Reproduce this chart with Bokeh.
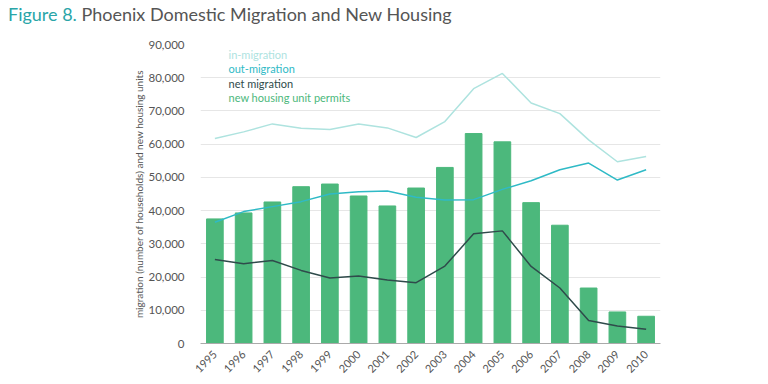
from bokeh.plotting import figure
from bokeh.models import (ColumnDataSource, Label, FixedTicker, Div,
                          NumeralTickFormatter, Range1d)
from bokeh.layouts import column
from bokeh.embed import file_html
from bokeh.resources import INLINE
import math

years = ["1995", "1996", "1997", "1998", "1999", "2000", "2001", "2002",
         "2003", "2004", "2005", "2006", "2007", "2008", "2009", "2010"]
permits = [37500, 39300, 42600, 47200, 48000, 44400, 41400, 46800,
           53000, 63200, 60700, 42400, 35600, 16700, 9500, 8200]
in_migration = [61700, 63700, 66100, 64800, 64400, 66100, 64900, 62000,
                66800, 76700, 81300, 72400, 69200, 61300, 54700, 56300]
out_migration = [36500, 39700, 41200, 42700, 45000, 45700, 45900, 44000,
                 43200, 43300, 46400, 49000, 52300, 54300, 49200, 52300]
net_migration = [25300, 24000, 25000, 22000, 19700, 20300, 19100, 18300,
                 23300, 33000, 33900, 23200, 16700, 6900, 5300, 4300]
y_ticks = [0, 10000, 20000, 30000, 40000, 50000, 60000, 70000, 80000, 90000]

FONT = "Lato"
C_BAR = "#4cb87c"
C_IN = "#aee3df"
C_OUT = "#2fbac6"
C_NET = "#2f4b4b"
C_TXT = "#555555"

TH = 28
W, H = 768, 384 - TH
BL, BR, BT, BB = 200, 108, 44 - TH, 41
FH = H - BT - BB

src = ColumnDataSource(dict(year=years, permits=permits, inm=in_migration,
                            outm=out_migration, net=net_migration))

p = figure(x_range=years, y_range=Range1d(0, 90000), width=W, height=H,
           output_backend="svg", toolbar_location=None,
           min_border_left=BL, min_border_right=BR, min_border_top=BT,
           min_border_bottom=BB, margin=(0, 0, 0, 0))
p.outline_line_color = None

p.vbar(x="year", top="permits", width=0.58, source=src, color=C_BAR)
p.line(x="year", y="inm", source=src, color=C_IN, line_width=1.5)
p.line(x="year", y="outm", source=src, color=C_OUT, line_width=1.5)
p.line(x="year", y="net", source=src, color=C_NET, line_width=1.5)

p.xgrid.grid_line_color = None
p.ygrid.grid_line_color = "#e6e6e6"
p.ygrid.ticker = FixedTicker(ticks=y_ticks)

p.yaxis.ticker = FixedTicker(ticks=y_ticks)
p.yaxis.formatter = NumeralTickFormatter(format="0,0")
p.yaxis.axis_line_color = None
p.yaxis.major_tick_line_color = None
p.yaxis.minor_tick_line_color = None
p.yaxis.major_label_standoff = 10
p.yaxis.major_label_text_font = FONT
p.yaxis.major_label_text_font_size = "11.5px"
p.yaxis.major_label_text_color = C_TXT
p.yaxis.axis_label = "migration (number of households) and new housing units"
p.yaxis.axis_label_standoff = 1
p.yaxis.axis_label_text_font = FONT
p.yaxis.axis_label_text_font_size = "10px"
p.yaxis.axis_label_text_font_style = "normal"
p.yaxis.axis_label_text_color = C_TXT

p.xaxis.axis_line_color = "#aaaaaa"
p.xaxis.major_tick_line_color = None
p.xaxis.minor_tick_line_color = None
p.xaxis.major_label_standoff = 3
p.xaxis.major_label_orientation = math.pi / 4
p.xaxis.major_label_text_font = FONT
p.xaxis.major_label_text_font_size = "11px"
p.xaxis.major_label_text_color = C_TXT

legend = [("in-migration", C_IN), ("out-migration", C_OUT),
          ("net migration", C_NET), ("new housing unit permits", C_BAR)]
for i, (txt, col) in enumerate(legend):
    p.add_layout(Label(x=28, y=FH - 10 - i * 14.4, x_units="screen", y_units="screen",
                       text=txt, text_color=col, text_font=FONT,
                       text_font_size="11px", text_baseline="middle"))

title = Div(text='<span style="color:#2aa5a8">Figure 8.</span>&nbsp;'
                 '<span style="color:#555555">Phoenix Domestic Migration and New Housing</span>',
            width=W, height=TH, margin=(0, 0, 0, 0),
            styles={"font-family": FONT, "font-size": "18px",
                    "line-height": "28px", "padding-left": "8px",
                    "white-space": "nowrap"})

layout = column(title, p, spacing=0)
open("out.html", "w").write(file_html(layout, INLINE))
